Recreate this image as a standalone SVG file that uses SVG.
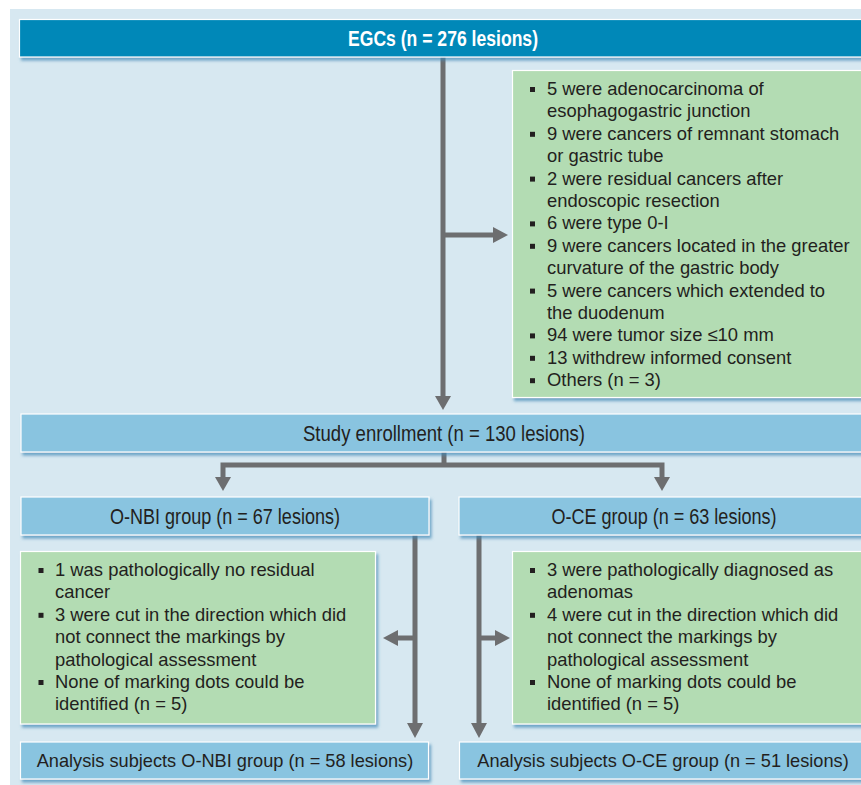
<svg xmlns="http://www.w3.org/2000/svg" width="861" height="785" viewBox="0 0 861 785">
<defs>
<filter id="sh" x="-5%" y="-10%" width="115%" height="130%">
<feDropShadow dx="2" dy="3" stdDeviation="1.5" flood-color="#3f87b5" flood-opacity="0.7"/>
</filter>
</defs>
<style>
.hdr{fill:#0088b8;stroke:#ffffff;stroke-width:1.2}
.box{fill:#89c4e0;stroke:#ffffff;stroke-width:1.2}
.grn{fill:#b3dcb3;stroke:#ffffff;stroke-width:1.2}
.cond{font-family:"Liberation Sans",Arial,sans-serif;font-size:22px;fill:#231f20;text-anchor:middle}
.bold{font-weight:bold;fill:#ffffff;font-size:21.5px}
.reg{font-family:"Liberation Sans",Arial,sans-serif;font-size:18.4px;fill:#231f20}
.mid{text-anchor:middle;font-size:18.2px}
.bul{fill:#231f20}
.ln{stroke:#6d6e70;stroke-width:5;fill:none}
.ah{fill:#6d6e70}
</style>
<rect x="10" y="9" width="861" height="790" fill="#d7e8f1"/>

<g id="connectors">
<line class="ln" x1="443" y1="57" x2="443" y2="397"/>
<path class="ah" d="M435,396 L451,396 L443,410 Z"/>
<line class="ln" x1="443" y1="235" x2="494" y2="235"/>
<path class="ah" d="M493,227 L508,235 L493,243 Z"/>
<line class="ln" x1="444" y1="452" x2="444" y2="467"/>
<polyline class="ln" points="223,478 223,465 662,465 662,478"/>
<path class="ah" d="M215,477 L231,477 L223,491 Z"/>
<path class="ah" d="M654,477 L670,477 L662,491 Z"/>
<line class="ln" x1="415" y1="535" x2="415" y2="724"/>
<path class="ah" d="M407,723 L423,723 L415,738 Z"/>
<line class="ln" x1="415" y1="638" x2="396" y2="638"/>
<path class="ah" d="M398,630 L383,638 L398,646 Z"/>
<line class="ln" x1="479" y1="535" x2="479" y2="724"/>
<path class="ah" d="M471,723 L487,723 L479,738 Z"/>
<line class="ln" x1="479" y1="638" x2="497" y2="638"/>
<path class="ah" d="M495,630 L510,638 L495,646 Z"/>
</g>

<g id="egcs">
<rect class="hdr" x="19.5" y="19.5" width="847" height="37.5" filter="url(#sh)"/>
<text class="cond bold" x="443" y="45.5" textLength="190" lengthAdjust="spacingAndGlyphs">EGCs (n = 276 lesions)</text>
</g>

<g id="exclusion1">
<rect class="grn" x="512.5" y="70.5" width="360" height="327" filter="url(#sh)"/>
<g class="bul">
<rect x="530" y="87" width="5" height="5"/>
<rect x="530" y="131.8" width="5" height="5"/>
<rect x="530" y="176.6" width="5" height="5"/>
<rect x="530" y="221.4" width="5" height="5"/>
<rect x="530" y="243.8" width="5" height="5"/>
<rect x="530" y="288.6" width="5" height="5"/>
<rect x="530" y="333.4" width="5" height="5"/>
<rect x="530" y="355.8" width="5" height="5"/>
<rect x="530" y="378.2" width="5" height="5"/>
</g>
<text class="reg" x="547" y="95">5 were adenocarcinoma of</text>
<text class="reg" x="547" y="117.4">esophagogastric junction</text>
<text class="reg" x="547" y="139.8">9 were cancers of remnant stomach</text>
<text class="reg" x="547" y="162.2">or gastric tube</text>
<text class="reg" x="547" y="184.6">2 were residual cancers after</text>
<text class="reg" x="547" y="207">endoscopic resection</text>
<text class="reg" x="547" y="229.4">6 were type 0-I</text>
<text class="reg" x="547" y="251.8">9 were cancers located in the greater</text>
<text class="reg" x="547" y="274.2">curvature of the gastric body</text>
<text class="reg" x="547" y="296.6">5 were cancers which extended to</text>
<text class="reg" x="547" y="319">the duodenum</text>
<text class="reg" x="547" y="341.4">94 were tumor size ≤10 mm</text>
<text class="reg" x="547" y="363.8">13 withdrew informed consent</text>
<text class="reg" x="547" y="386.2">Others (n = 3)</text>
</g>

<g id="enrollment">
<rect class="box" x="21" y="414" width="846" height="38" filter="url(#sh)"/>
<text class="cond" x="444" y="441" textLength="282" lengthAdjust="spacingAndGlyphs">Study enrollment (n = 130 lesions)</text>
</g>

<g id="onbi">
<rect class="box" x="21" y="497" width="408" height="38" filter="url(#sh)"/>
<text class="cond" x="225" y="524" textLength="230" lengthAdjust="spacingAndGlyphs">O-NBI group (n = 67 lesions)</text>
</g>

<g id="oce">
<rect class="box" x="459" y="497" width="410" height="38" filter="url(#sh)"/>
<text class="cond" x="664" y="524" textLength="225" lengthAdjust="spacingAndGlyphs">O-CE group (n = 63 lesions)</text>
</g>

<g id="exclusion-onbi">
<rect class="grn" x="20.5" y="551.5" width="355" height="172.5" filter="url(#sh)"/>
<g class="bul">
<rect x="38.5" y="568" width="5" height="5"/>
<rect x="38.5" y="612.8" width="5" height="5"/>
<rect x="38.5" y="680" width="5" height="5"/>
</g>
<text class="reg" x="55" y="576">1 was pathologically no residual</text>
<text class="reg" x="55" y="598.4">cancer</text>
<text class="reg" x="55" y="620.8">3 were cut in the direction which did</text>
<text class="reg" x="55" y="643.2">not connect the markings by</text>
<text class="reg" x="55" y="665.6">pathological assessment</text>
<text class="reg" x="55" y="688">None of marking dots could be</text>
<text class="reg" x="55" y="710.4">identified (n = 5)</text>
</g>

<g id="exclusion-oce">
<rect class="grn" x="512.5" y="551.5" width="360" height="172.5" filter="url(#sh)"/>
<g class="bul">
<rect x="530" y="568" width="5" height="5"/>
<rect x="530" y="612.8" width="5" height="5"/>
<rect x="530" y="680" width="5" height="5"/>
</g>
<text class="reg" x="547" y="576">3 were pathologically diagnosed as</text>
<text class="reg" x="547" y="598.4">adenomas</text>
<text class="reg" x="547" y="620.8">4 were cut in the direction which did</text>
<text class="reg" x="547" y="643.2">not connect the markings by</text>
<text class="reg" x="547" y="665.6">pathological assessment</text>
<text class="reg" x="547" y="688">None of marking dots could be</text>
<text class="reg" x="547" y="710.4">identified (n = 5)</text>
</g>

<g id="analysis-onbi">
<rect class="box" x="20.5" y="742" width="408" height="37" filter="url(#sh)"/>
<text class="reg mid" x="225" y="767">Analysis subjects O-NBI group (n = 58 lesions)</text>
</g>

<g id="analysis-oce">
<rect class="box" x="459.5" y="742" width="410" height="37" filter="url(#sh)"/>
<text class="reg mid" x="663" y="767">Analysis subjects O-CE group (n = 51 lesions)</text>
</g>
</svg>
